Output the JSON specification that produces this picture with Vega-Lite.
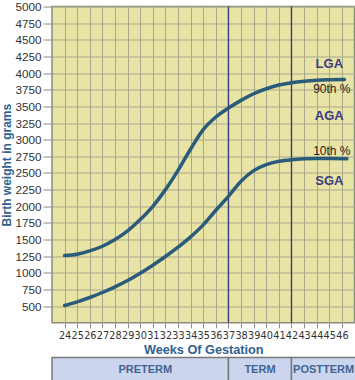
{
  "$schema": "https://vega.github.io/schema/vega-lite/v6.json",
  "padding": {"left": 0, "top": 0.5, "right": 0, "bottom": 0},
  "background": "white",
  "config": {"font": "Liberation Sans", "view": {"stroke": null}},
  "spacing": -1,
  "datasets": {
    "curves": [
      {"week": 24, "grams": 1260, "series": "90th"},
      {"week": 25, "grams": 1280, "series": "90th"},
      {"week": 26, "grams": 1330, "series": "90th"},
      {"week": 27, "grams": 1400, "series": "90th"},
      {"week": 28, "grams": 1500, "series": "90th"},
      {"week": 29, "grams": 1630, "series": "90th"},
      {"week": 30, "grams": 1800, "series": "90th"},
      {"week": 31, "grams": 2000, "series": "90th"},
      {"week": 32, "grams": 2250, "series": "90th"},
      {"week": 33, "grams": 2540, "series": "90th"},
      {"week": 34, "grams": 2860, "series": "90th"},
      {"week": 35, "grams": 3150, "series": "90th"},
      {"week": 36, "grams": 3340, "series": "90th"},
      {"week": 37, "grams": 3475, "series": "90th"},
      {"week": 38, "grams": 3590, "series": "90th"},
      {"week": 39, "grams": 3690, "series": "90th"},
      {"week": 40, "grams": 3765, "series": "90th"},
      {"week": 41, "grams": 3820, "series": "90th"},
      {"week": 42, "grams": 3855, "series": "90th"},
      {"week": 43, "grams": 3878, "series": "90th"},
      {"week": 44, "grams": 3893, "series": "90th"},
      {"week": 45, "grams": 3900, "series": "90th"},
      {"week": 46.2, "grams": 3905, "series": "90th"},
      {"week": 24, "grams": 510, "series": "10th"},
      {"week": 25, "grams": 565, "series": "10th"},
      {"week": 26, "grams": 630, "series": "10th"},
      {"week": 27, "grams": 705, "series": "10th"},
      {"week": 28, "grams": 790, "series": "10th"},
      {"week": 29, "grams": 885, "series": "10th"},
      {"week": 30, "grams": 995, "series": "10th"},
      {"week": 31, "grams": 1115, "series": "10th"},
      {"week": 32, "grams": 1245, "series": "10th"},
      {"week": 33, "grams": 1385, "series": "10th"},
      {"week": 34, "grams": 1540, "series": "10th"},
      {"week": 35, "grams": 1720, "series": "10th"},
      {"week": 36, "grams": 1940, "series": "10th"},
      {"week": 37, "grams": 2150, "series": "10th"},
      {"week": 38, "grams": 2375, "series": "10th"},
      {"week": 39, "grams": 2535, "series": "10th"},
      {"week": 40, "grams": 2625, "series": "10th"},
      {"week": 41, "grams": 2675, "series": "10th"},
      {"week": 42, "grams": 2700, "series": "10th"},
      {"week": 43, "grams": 2712, "series": "10th"},
      {"week": 44, "grams": 2717, "series": "10th"},
      {"week": 45, "grams": 2717, "series": "10th"},
      {"week": 46.4, "grams": 2715, "series": "10th"}
    ],
    "dividers": [{"week": 37}, {"week": 42}],
    "classLabels": [
      {"week": 45.0, "grams": 4130, "text": "LGA"},
      {"week": 45.0, "grams": 3363, "text": "AGA"},
      {"week": 45.0, "grams": 2376, "text": "SGA"}
    ],
    "pctLabels": [
      {"week": 45.2, "grams": 3764, "text": "90th %"},
      {"week": 45.2, "grams": 2837, "text": "10th %"}
    ],
    "periods": [
      {"start": 23, "end": 37, "mid": 30.4, "period": "PRETERM"},
      {"start": 37, "end": 42, "mid": 39.5, "period": "TERM"},
      {"start": 42, "end": 47.1, "mid": 44.55, "period": "POSTTERM"}
    ]
  },
  "vconcat": [
    {
      "width": 302.5,
      "height": 316.3,
      "view": {"fill": "#e8e4a6", "stroke": "#8c8a78", "strokeWidth": 1.5},
      "encoding": {
        "x": {
          "field": "week", "type": "quantitative",
          "scale": {"domain": [23, 47], "nice": false, "zero": false},
          "axis": {
            "values": [24,25,26,27,28,29,30,31,32,33,34,35,36,37,38,39,40,41,42,43,44,45,46],
            "title": "Weeks Of Gestation",
            "grid": true, "gridColor": "#aaa78c", "gridWidth": 1, "gridOpacity": 1,
            "domain": false, "ticks": true, "tickSize": 5, "tickColor": "#8a8a8a",
            "labelFont": "'Liberation Sans Narrow', 'DejaVu Sans Condensed', sans-serif",
            "labelFontSize": 10.8, "labelColor": "#333333", "labelPadding": 2,
            "labelOverlap": false, "labelFlush": false,
            "titleFont": "Liberation Sans", "titleFontSize": 12.7, "titleFontWeight": "bold",
            "titleColor": "#2f6190", "titlePadding": 3
          }
        },
        "y": {
          "field": "grams", "type": "quantitative",
          "scale": {"domain": [250, 5000], "nice": false, "zero": false},
          "axis": {
            "values": [500,750,1000,1250,1500,1750,2000,2250,2500,2750,3000,3250,3500,3750,4000,4250,4500,4750,5000],
            "format": "d",
            "title": "Birth weight in grams",
            "grid": true, "gridColor": "#aaa78c", "gridWidth": 1, "gridOpacity": 1,
            "domain": false, "ticks": true, "tickSize": 9, "tickColor": "#8a8a8a",
            "labelFontSize": 11.7, "labelColor": "#333333", "labelPadding": 2,
            "labelOverlap": false, "labelFlush": false,
            "titleFontSize": 12, "titleFontWeight": "bold", "titleColor": "#2f6190",
            "titlePadding": 1
          }
        }
      },
      "layer": [
        {
          "data": {"name": "dividers"},
          "mark": {"type": "rule", "color": "#3a3a80", "strokeWidth": 1.4},
          "encoding": {"y": null}
        },
        {
          "data": {"name": "curves"},
          "mark": {"type": "line", "interpolate": "monotone", "color": "#2b5b7a", "strokeWidth": 3.5, "strokeCap": "round"},
          "encoding": {"detail": {"field": "series"}}
        },
        {
          "data": {"name": "classLabels"},
          "mark": {"type": "text", "align": "center", "baseline": "middle", "fontWeight": "bold", "fontSize": 13, "color": "#3c3c82"},
          "encoding": {"text": {"field": "text"}}
        },
        {
          "data": {"name": "pctLabels"},
          "mark": {"type": "text", "align": "center", "baseline": "middle", "fontSize": 12, "color": "#1e1e1e"},
          "encoding": {"text": {"field": "text"}}
        }
      ]
    },
    {
      "width": 302.5,
      "height": 25,
      "data": {"name": "periods"},
      "encoding": {
        "x": {"field": "start", "type": "quantitative", "scale": {"domain": [23, 47], "nice": false, "zero": false}, "axis": null}
      },
      "layer": [
        {
          "mark": {"type": "rect", "fill": "#ccd5ee", "stroke": "#7a7a7a", "strokeWidth": 1.5},
          "encoding": {"x2": {"field": "end"}}
        },
        {
          "mark": {"type": "text", "fontWeight": "bold", "fontSize": 11, "color": "#3f6493", "baseline": "middle"},
          "encoding": {"x": {"field": "mid", "type": "quantitative"}, "text": {"field": "period"}}
        }
      ]
    }
  ]
}
